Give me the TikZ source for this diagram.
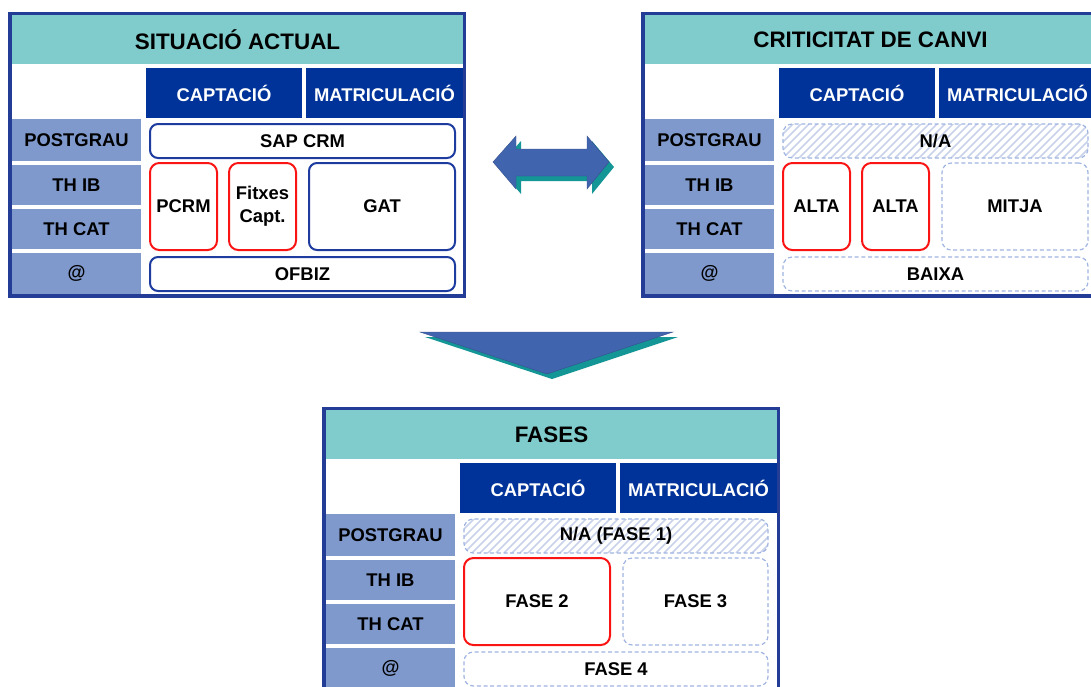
\documentclass[tikz,border=0pt]{standalone}
\usepackage{fontspec}
\setmainfont{Liberation Sans}
\definecolor{frameblue}{RGB}{35,60,150}
\definecolor{tealband}{RGB}{128,204,204}
\definecolor{hdrblue}{RGB}{0,51,153}
\definecolor{labblue}{RGB}{127,153,204}
\definecolor{boxblue}{RGB}{30,60,160}
\definecolor{redc}{RGB}{250,20,20}
\definecolor{dashc}{RGB}{160,180,225}
\definecolor{hatchc}{RGB}{200,210,235}
\definecolor{arrblue}{RGB}{65,100,175}
\definecolor{arrteal}{RGB}{20,150,150}
\newcommand\fs{\fontsize{13.8}{17}\selectfont\bfseries}
\tikzset{
  frame/.style={draw=frameblue, line width=2.6pt},
  titleband/.style={fill=tealband, font=\fontsize{16.8}{20}\selectfont\bfseries},
  hdrcell/.style={fill=hdrblue, text=white, font=\fs},
  labcell/.style={fill=labblue, font=\fs},
  bluebox/.style={draw=boxblue, line width=1.5pt, rounded corners=6pt, fill=white, font=\fs, align=center},
  redbox/.style={draw=redc, line width=1.5pt, rounded corners=7pt, fill=white, font=\fs, align=center},
  dashbox/.style={draw=dashc, line width=0.9pt, dash pattern=on 3pt off 2pt, rounded corners=7pt, font=\fs, align=center},
  hatchbox/.style={dashbox, path picture={
      \foreach \k in {0,...,46}{
        \draw[hatchc, solid, line width=1.3pt]
          ([xshift=\k*6pt-30pt]path picture bounding box.south west) -- ++(30pt,30pt);
      }}},
  arrowshape/.style={fill=arrblue, draw=arrblue!80!black, line width=0.3pt},
  arrowshadow/.style={fill=arrteal}
}
% name, x1, y1, x2, y2, style, text
\newcommand\cellbox[7]{%
  \pgfmathsetmacro\cw{(#4-#2)*0.75}%
  \pgfmathsetmacro\ch{(#5-#3)*0.75}%
  \node[#6, minimum width=\cw pt, minimum height=\ch pt, inner sep=0pt, outer sep=0pt]
    (#1) at ({(#2+#4)/2},{(#3+#5)/2}) {#7};}
% prefix, dx, dy, title
\newcommand\tablegrid[4]{%
  \begin{scope}[shift={(#2,#3)}]
    \cellbox{#1title}{12}{15}{463}{64}{titleband}{#4}
    \cellbox{#1capt}{146}{68}{302}{118}{hdrcell}{CAPTACIÓ}
    \cellbox{#1matr}{306}{68}{463}{118}{hdrcell}{MATRICULACIÓ}
    \cellbox{#1post}{12}{119}{141}{161}{labcell}{POSTGRAU}
    \cellbox{#1thib}{12}{165}{141}{205}{labcell}{TH IB}
    \cellbox{#1thcat}{12}{209}{141}{249}{labcell}{TH CAT}
    \cellbox{#1at}{12}{253}{141}{294}{labcell}{@}
    \cellbox{#1frame}{10}{13.5}{464.5}{296}{frame}{}
  \end{scope}}
\begin{document}
\begin{tikzpicture}[x=0.75pt, y=-0.75pt]
  \useasboundingbox (0,0) rectangle (1091,686);
  \clip (0,0) rectangle (1091,686);
  % tables
  \tablegrid{a}{0}{0}{SITUACIÓ ACTUAL}
  \tablegrid{b}{633}{0}{CRITICITAT DE CANVI}
  \tablegrid{c}{314}{395}{FASES}
  % situacio actual content
  \cellbox{sap}{150}{124}{455}{158}{bluebox}{SAP CRM}
  \cellbox{pcrm}{150}{163}{217}{250}{redbox}{PCRM}
  \cellbox{fitx}{229}{163}{296}{250}{redbox}{Fitxes\\Capt.}
  \cellbox{gat}{309}{163}{455}{250}{bluebox}{GAT}
  \cellbox{ofbiz}{150}{257}{455}{291}{bluebox}{OFBIZ}
  % criticitat content
  \cellbox{na}{783}{124}{1088}{158}{hatchbox}{N/A}
  \cellbox{alta1}{783}{163}{850}{250}{redbox}{ALTA}
  \cellbox{alta2}{862}{163}{929}{250}{redbox}{ALTA}
  \cellbox{mitja}{942}{163}{1088}{250}{dashbox}{MITJA}
  \cellbox{baixa}{783}{257}{1088}{291}{dashbox}{BAIXA}
  % fases content
  \cellbox{f1}{464}{519}{768}{553}{hatchbox}{N/A (FASE 1)}
  \cellbox{f2}{464}{558}{610}{645}{redbox}{FASE 2}
  \cellbox{f3}{623}{558}{768}{645}{dashbox}{FASE 3}
  \cellbox{f4}{464}{652}{768}{686}{dashbox}{FASE 4}
  % double arrow
  \begin{scope}[shift={(5,5)}]
    \fill[arrowshadow] (493,162) -- (516,136) -- (516,149) -- (587,149) -- (587,136) -- (609,162)
      -- (587,189) -- (587,176) -- (516,176) -- (516,189) -- cycle;
  \end{scope}
  \filldraw[arrowshape] (493,162) -- (516,136) -- (516,149) -- (587,149) -- (587,136) -- (609,162)
      -- (587,189) -- (587,176) -- (516,176) -- (516,189) -- cycle;
  % down arrow
  \fill[arrowshadow] (425,337) -- (678,337) -- (552,379) -- cycle;
  \filldraw[arrowshape] (420,332) -- (673,332) -- (547,374) -- cycle;
\end{tikzpicture}
\end{document}
